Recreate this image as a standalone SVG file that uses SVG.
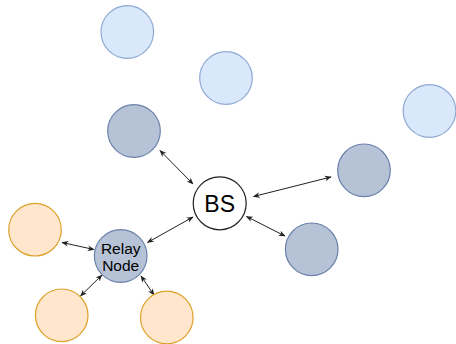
<svg xmlns="http://www.w3.org/2000/svg" width="456" height="344" viewBox="0 0 456 344">
<defs>
<style>
.lb{fill:#dae8fc;stroke:#8fa9d2;stroke-width:1.2}
.dg{fill:#b6c2d5;stroke:#6a82aa;stroke-width:1.2}
.or{fill:#ffe6cc;stroke:#dca22a;stroke-width:1.2}
.bs{fill:#ffffff;stroke:#222222;stroke-width:1.2}
.c{stroke:#222222;stroke-width:1;fill:none;marker-start:url(#a);marker-end:url(#a)}
text{font-family:"Liberation Sans",Arial,sans-serif;fill:#000;text-anchor:middle}
</style>
<marker id="a" viewBox="0 0 10 10" refX="9" refY="5" markerWidth="7" markerHeight="7" markerUnits="userSpaceOnUse" orient="auto-start-reverse">
<path d="M0,1 L10,5 L0,9 L3,5 Z" fill="#222"/>
</marker>
</defs>
<g id="connectors">
<line class="c" x1="160" y1="150.5" x2="193" y2="184"/>
<line class="c" x1="253.5" y1="196.5" x2="331" y2="177"/>
<line class="c" x1="246.5" y1="216.5" x2="285" y2="236"/>
<line class="c" x1="147.5" y1="242.5" x2="193" y2="217"/>
<line class="c" x1="62" y1="242.5" x2="94" y2="249.5"/>
<line class="c" x1="80.5" y1="296" x2="102" y2="275"/>
<line class="c" x1="141" y1="276" x2="154" y2="295"/>
</g>
<g id="lb1"><circle class="lb" cx="127.3" cy="32" r="26.3"/></g>
<g id="lb2"><circle class="lb" cx="226" cy="78" r="26.3"/></g>
<g id="lb3"><circle class="lb" cx="429.5" cy="111" r="26.3"/></g>
<g id="dg1"><circle class="dg" cx="134" cy="131" r="26.3"/></g>
<g id="dg2"><circle class="dg" cx="364" cy="170.3" r="26.3"/></g>
<g id="dg3"><circle class="dg" cx="311.7" cy="249.3" r="26.3"/></g>
<g id="bs"><circle class="bs" cx="219.7" cy="203.3" r="26.5"/><text x="219.7" y="211.5" font-size="23">BS</text></g>
<g id="relay"><circle class="dg" cx="120.7" cy="256" r="26.3"/><text x="120.7" y="254" font-size="15.5">Relay</text><text x="120.7" y="270.5" font-size="15.5">Node</text></g>
<g id="or1"><circle class="or" cx="35" cy="229.7" r="26.3"/></g>
<g id="or2"><circle class="or" cx="61.7" cy="315.3" r="26.3"/></g>
<g id="or3"><circle class="or" cx="166.8" cy="317.5" r="26.3"/></g>
</svg>
